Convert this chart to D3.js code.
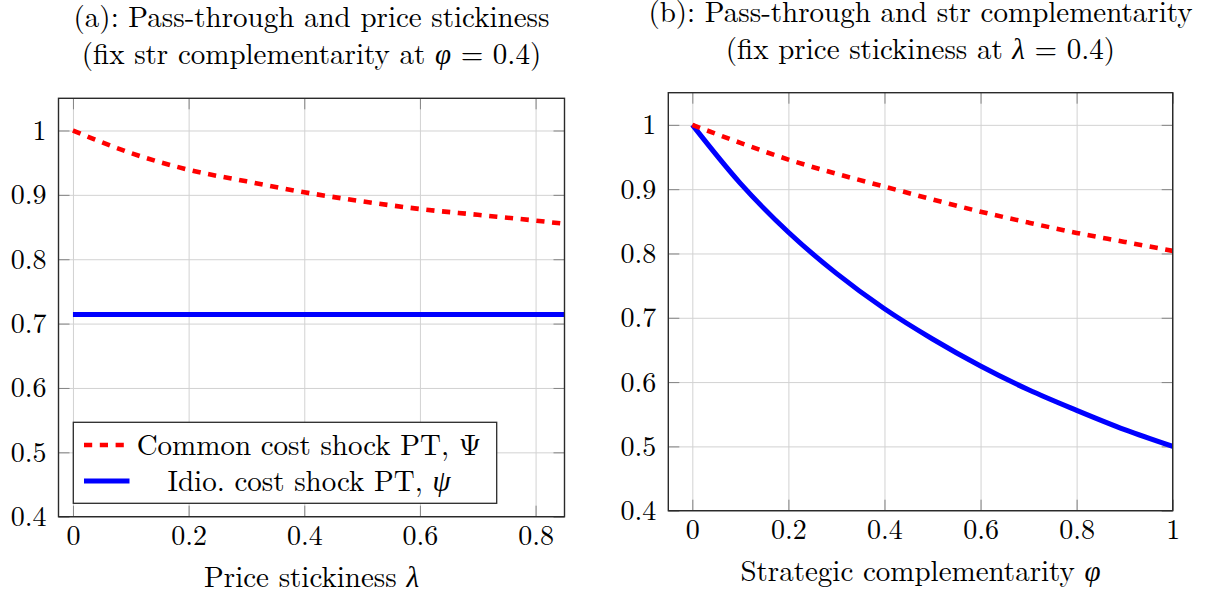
<!DOCTYPE html>
<html>
<head>
<meta charset="utf-8">
<script src="https://cdn.jsdelivr.net/npm/d3@7"></script>
<style>
  body { margin: 0; background: #fff; }
  svg text { font-family: "Latin Modern Roman", "CMU Serif", "Liberation Serif", "DejaVu Serif", serif; fill: #000; }
</style>
</head>
<body>
<div id="d3-container"></div>
<script>
/**
 * DATA
 * */
// panel (a): x = price stickiness lambda, phi fixed at 0.4
const lambdaA = [0, 0.1, 0.2, 0.3, 0.4, 0.5, 0.6, 0.7, 0.8, 0.85];
const commonA = [1.000, 0.965, 0.939, 0.921, 0.904, 0.890, 0.878, 0.869, 0.860, 0.855];
const idioA   = [0.714, 0.714, 0.714, 0.714, 0.714, 0.714, 0.714, 0.714, 0.714, 0.714];

// panel (b): x = strategic complementarity phi, lambda fixed at 0.4
const phiB    = [0, 0.1, 0.2, 0.3, 0.4, 0.5, 0.6, 0.7, 0.8, 0.9, 1];
const commonB = [1.000, 0.972, 0.946, 0.924, 0.904, 0.884, 0.865, 0.848, 0.832, 0.818, 0.804];
const idioB   = [1.000, 0.909, 0.833, 0.769, 0.714, 0.667, 0.625, 0.588, 0.556, 0.526, 0.500];

const xTicksA = [0, 0.2, 0.4, 0.6, 0.8];
const xTicksB = [0, 0.2, 0.4, 0.6, 0.8, 1];
const yTicks  = [0.4, 0.5, 0.6, 0.7, 0.8, 0.9, 1];

const legendLabels = ["Common cost shock PT, ", "Idio. cost shock PT, "];

/**
 * CONSTANTS
 * */
const width = 1205, height = 592;
const fs = 28;    // tick labels
const fsT = 29;   // titles, axis labels, legend
const serif = '"Latin Modern Roman", "CMU Serif", "Liberation Serif", "DejaVu Serif", serif';

const svg = d3.select("#d3-container")
  .append("svg")
  .attr("width", width)
  .attr("height", height)
  .attr("font-family", serif);

const defs = svg.append("defs");

function drawPanel(p) {
  const x = d3.scaleLinear().domain(p.xDomain).range([p.left, p.right]);
  const y = d3.scaleLinear().domain([0.4, 1.05]).range([p.bottom, p.top]);
  const w = p.right - p.left, h = p.bottom - p.top;
  const g = svg.append("g");

  // grid
  g.append("g")
    .attr("transform", `translate(0,${p.bottom})`)
    .call(d3.axisBottom(x).tickValues(p.xTicks).tickSize(-h).tickFormat(""))
    .call(s => s.select(".domain").remove())
    .call(s => s.selectAll("line").attr("stroke", "#d2d2d2").attr("stroke-width", 1));
  g.append("g")
    .attr("transform", `translate(${p.left},0)`)
    .call(d3.axisLeft(y).tickValues(yTicks).tickSize(-w).tickFormat(""))
    .call(s => s.select(".domain").remove())
    .call(s => s.selectAll("line").attr("stroke", "#d2d2d2").attr("stroke-width", 1));

  // inside ticks on all four sides
  const tk = 11;
  const sides = [
    [d3.axisBottom(x).tickValues(p.xTicks), `translate(0,${p.bottom})`],
    [d3.axisTop(x).tickValues(p.xTicks), `translate(0,${p.top})`],
    [d3.axisLeft(y).tickValues(yTicks), `translate(${p.left},0)`],
    [d3.axisRight(y).tickValues(yTicks), `translate(${p.right},0)`]
  ];
  sides.forEach(([ax, tr]) => {
    g.append("g")
      .attr("transform", tr)
      .call(ax.tickSize(-tk).tickFormat(""))
      .call(s => s.select(".domain").remove())
      .call(s => s.selectAll("line").attr("stroke", "#858585").attr("stroke-width", 1));
  });

  // tick labels
  g.append("g")
    .attr("transform", `translate(0,${p.bottom})`)
    .call(d3.axisBottom(x).tickValues(p.xTicks).tickSize(0).tickPadding(8.5).tickFormat(d => String(d)))
    .attr("font-family", serif)
    .call(s => s.select(".domain").remove())
    .call(s => s.selectAll("text").attr("font-size", fs));
  g.append("g")
    .attr("transform", `translate(${p.left},0)`)
    .call(d3.axisLeft(y).tickValues(yTicks).tickSize(0).tickPadding(12).tickFormat(d => String(d)))
    .attr("font-family", serif)
    .call(s => s.select(".domain").remove())
    .call(s => s.selectAll("text").attr("font-size", fs));

  // lines
  defs.append("clipPath").attr("id", "clip" + p.id)
    .append("rect").attr("x", p.left).attr("y", p.top).attr("width", w).attr("height", h);

  const line = d3.line()
    .x(d => x(d[0]))
    .y(d => y(d[1]))
    .curve(d3.curveMonotoneX);

  const lines = g.append("g").attr("clip-path", `url(#clip${p.id})`);
  lines.append("path")
    .datum(p.xs.map((v, i) => [v, p.idio[i]]))
    .attr("d", line)
    .attr("fill", "none")
    .attr("stroke", "#0000ff")
    .attr("stroke-width", 5);
  lines.append("path")
    .datum(p.xs.map((v, i) => [v, p.common[i]]))
    .attr("d", line)
    .attr("fill", "none")
    .attr("stroke", "#ff0000")
    .attr("stroke-width", 4.6)
    .attr("stroke-dasharray", "8.2,7.6");

  // frame
  g.append("rect")
    .attr("x", p.left).attr("y", p.top)
    .attr("width", w).attr("height", h)
    .attr("fill", "none")
    .attr("stroke", "#2a2a2a")
    .attr("stroke-width", 1.4);

  // titles
  const cx = (p.left + p.right) / 2;
  g.append("text").attr("x", cx).attr("y", p.top - 71)
    .attr("text-anchor", "middle").attr("font-size", fsT).text(p.title1);
  const t2 = g.append("text").attr("x", cx).attr("y", p.top - 34)
    .attr("text-anchor", "middle").attr("font-size", fsT);
  t2.append("tspan").text(p.title2[0]);
  t2.append("tspan").attr("font-style", "italic").text(p.title2[1]);
  t2.append("tspan").text(p.title2[2]);

  const xl = g.append("text").attr("x", cx).attr("y", p.bottom + 70)
    .attr("text-anchor", "middle").attr("font-size", fsT);
  xl.append("tspan").text(p.xlabel[0]);
  xl.append("tspan").attr("font-style", "italic").text(p.xlabel[1]);

  return { x, y, g };
}

const pa = drawPanel({
  id: "a", left: 58.5, right: 564.5, top: 98.3, bottom: 516.7,
  xDomain: [-0.025, 0.85], xTicks: xTicksA,
  xs: lambdaA, common: commonA, idio: idioA,
  title1: "(a): Pass-through and price stickiness",
  title2: ["(fix str complementarity at ", "φ", " = 0.4)"],
  xlabel: ["Price stickiness ", "λ"]
});

drawPanel({
  id: "b", left: 668.3, right: 1172.7, top: 92.7, bottom: 510.7,
  xDomain: [-0.05, 1], xTicks: xTicksB,
  xs: phiB, common: commonB, idio: idioB,
  title1: "(b): Pass-through and str complementarity",
  title2: ["(fix price stickiness at ", "λ", " = 0.4)"],
  xlabel: ["Strategic complementarity ", "φ"]
});

// legend in panel (a)
const lg = pa.g.append("g");
lg.append("rect")
  .attr("x", 73.3).attr("y", 422.3)
  .attr("width", 423.4).attr("height", 81)
  .attr("fill", "#fff")
  .attr("stroke", "#2a2a2a")
  .attr("stroke-width", 1.3);

const legendItems = [
  { label: legendLabels[0], sym: "Ψ", italic: false, color: "#ff0000", dash: "8.2,7.6", sw: 4.6, cy: 445 },
  { label: legendLabels[1], sym: "ψ", italic: true, color: "#0000ff", dash: null, sw: 5, cy: 481 }
];
legendItems.forEach(d => {
  lg.append("line")
    .attr("x1", 84).attr("x2", 129.5)
    .attr("y1", d.cy).attr("y2", d.cy)
    .attr("stroke", d.color)
    .attr("stroke-width", d.sw)
    .attr("stroke-dasharray", d.dash);
  const t = lg.append("text")
    .attr("x", 309).attr("y", d.cy + 9.5)
    .attr("text-anchor", "middle")
    .attr("font-size", fsT);
  t.append("tspan").text(d.label);
  t.append("tspan").attr("font-style", d.italic ? "italic" : null).text(d.sym);
});
</script>
</body>
</html>
